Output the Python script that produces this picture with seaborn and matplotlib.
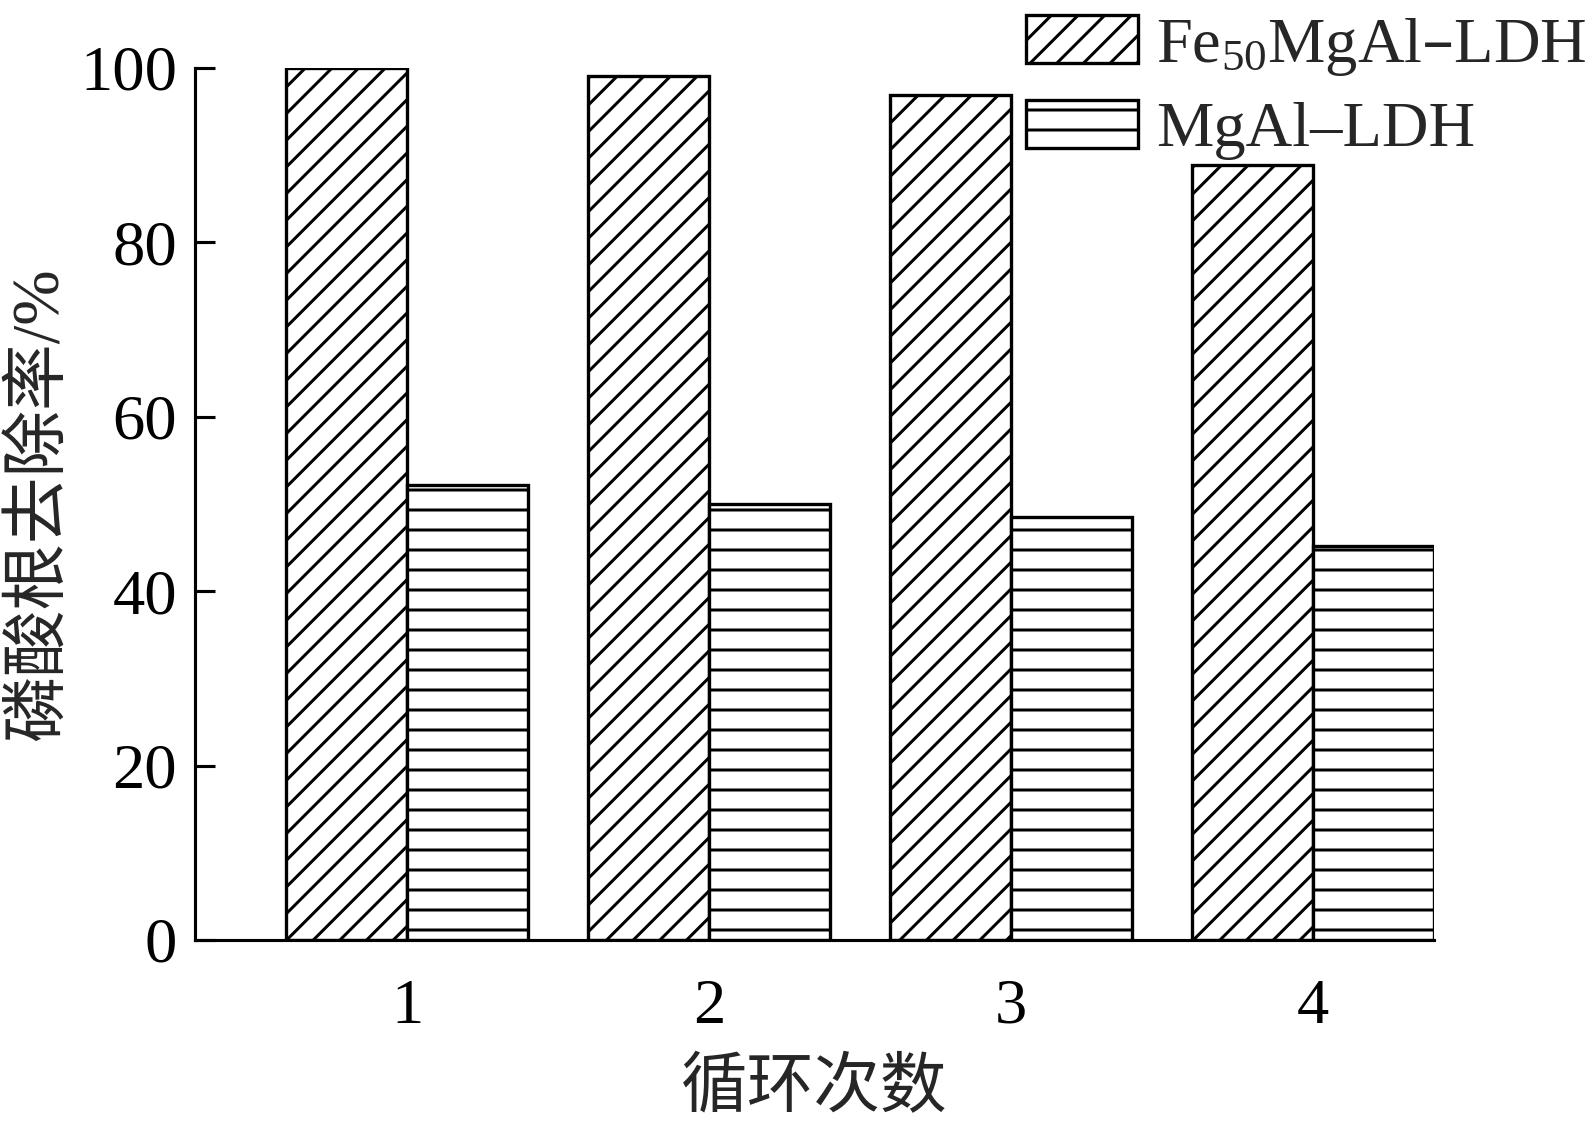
import numpy as np
import pandas as pd
import seaborn as sns
import matplotlib
matplotlib.use("Agg")
import matplotlib.pyplot as plt
import matplotlib.hatch as mhatch

cycles = ["1", "2", "3", "4"]
materials = ["Fe$_{50}$MgAl–LDH", "MgAl–LDH"]
fe_removal = [100.0, 99.1, 96.9, 88.8]
mgal_removal = [52.2, 50.0, 48.5, 45.2]
yticks = [0, 20, 40, 60, 80, 100]

df = pd.DataFrame({
    "cycle": cycles * 2,
    "material": [materials[0]] * 4 + [materials[1]] * 4,
    "value": fe_removal + mgal_removal,
})


# the horizontal hatch in the original is a bit denser than matplotlib's '-'
class DenseHorizontal(mhatch.HorizontalHatch):
    def __init__(self, hatch, density):
        super().__init__(hatch, density)
        self.num_lines = int(self.num_lines * 1.4)
        self.num_vertices = self.num_lines * 2


mhatch._hatch_types[0] = DenseHorizontal

sns.set_style("ticks")
plt.rcParams["font.family"] = ["Liberation Serif", "Noto Sans CJK SC"]
plt.rcParams["mathtext.default"] = "regular"
plt.rcParams["hatch.linewidth"] = 1.35
plt.rcParams["hatch.color"] = "black"

DPI = 160
fig = plt.figure(figsize=(1596 / DPI, 1121 / DPI), dpi=DPI)
ax = fig.add_axes([195 / 1596, 1 - 940 / 1121, (1434 - 195) / 1596, (940 - 67.7) / 1121])

sns.barplot(data=df, x="cycle", y="value", hue="material", ax=ax,
            palette=["white", "white"], saturation=1, width=0.8,
            edgecolor="black", linewidth=1.5, legend=False, errorbar=None)

for cont, h in zip(ax.containers, ["//", "-"]):
    for bar in cont:
        bar.set_hatch(h)
        bar.set_edgecolor("black")

ax.set_xlim(-0.703, 3.4)
ax.set_ylim(0, 100)
ax.set_yticks(yticks)
sns.despine(ax=ax)
for s in ["left", "bottom"]:
    ax.spines[s].set_linewidth(1.4)
    ax.spines[s].set_color("black")

ax.tick_params(axis="y", direction="in", length=9, width=1.4, pad=8,
               labelsize=29, colors="black")
ax.tick_params(axis="x", length=0, pad=17.5, labelsize=29, colors="black")

ax.set_xlabel("循环次数", fontsize=30)
ax.set_ylabel("磷酸根去除率/%", fontsize=30)
ax.xaxis.label.set_va("center")
ax.yaxis.label.set_va("center")
ax.xaxis.set_label_coords(0.5, (940 - 1090) / 872.3)
ax.yaxis.set_label_coords((41 - 195) / 1239, 0.5)

handles = [ax.containers[0][0], ax.containers[1][0]]
ax.legend(handles, materials, loc="upper left",
          bbox_to_anchor=(1026 / 1596, 1 - 15 / 1121), bbox_transform=fig.transFigure,
          frameon=False, fontsize=29, handlelength=1.74, handleheight=0.78,
          handletextpad=0.28, labelspacing=0.34, borderpad=0, borderaxespad=0)

fig.savefig("out.png", dpi=DPI, facecolor="white")
